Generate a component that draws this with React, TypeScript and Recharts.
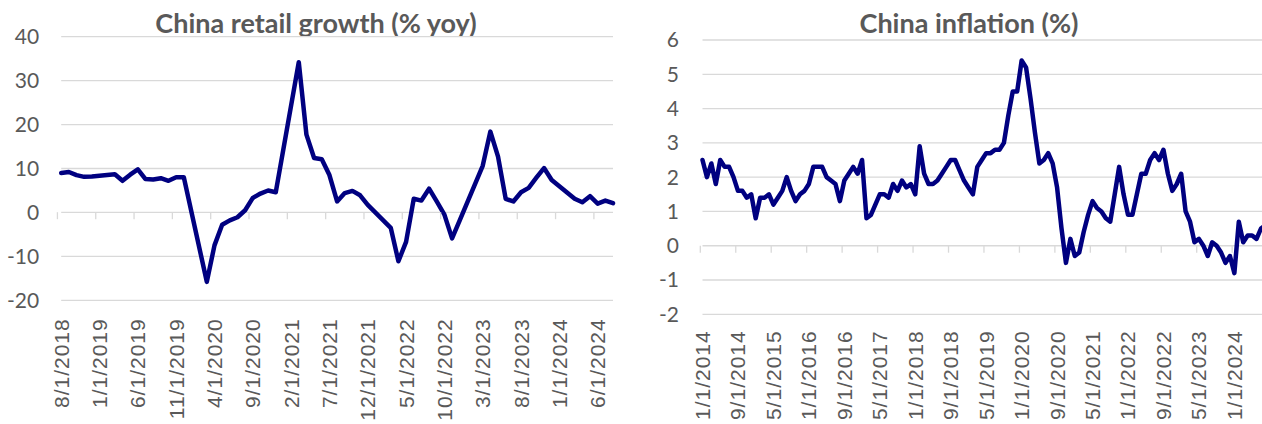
import { LineChart, Line, XAxis, YAxis, CartesianGrid } from 'recharts';

// China retail sales, % yoy, monthly from Aug 2018 (Jan/Feb are published combined -> blank)
const retailStart = { year: 2018, month: 8 };
const retailGrowth: (number | null)[] = [
  9.0, 9.2, 8.5, 8.1, 8.2,
  null, null, 8.7, 7.2, 8.6, 9.8, 7.6, 7.5, 7.8, 7.2, 8.0, 8.0,
  null, null, -15.8, -7.5, -2.8, -1.8, -1.1, 0.5, 3.3, 4.3, 5.0, 4.6,
  null, null, 34.2, 17.7, 12.4, 12.1, 8.5, 2.5, 4.4, 4.9, 3.9, 1.7,
  null, null, -3.5, -11.1, -6.7, 3.1, 2.7, 5.4, 2.5, -0.5, -5.9, -1.8,
  null, null, 10.6, 18.4, 12.7, 3.1, 2.5, 4.6, 5.6, 7.9, 10.1, 7.4,
  null, null, 3.1, 2.3, 3.7, 2.0, 2.7, 2.1,
];
const retailTicks = [-20, -10, 0, 10, 20, 30, 40];

// China CPI, %, monthly from Jan 2014
const cpiStart = { year: 2014, month: 1 };
const cpiInflation: number[] = [
  2.5, 2.0, 2.4, 1.8, 2.5, 2.3, 2.3, 2.0, 1.6, 1.6, 1.4, 1.5,
  0.8, 1.4, 1.4, 1.5, 1.2, 1.4, 1.6, 2.0, 1.6, 1.3, 1.5, 1.6,
  1.8, 2.3, 2.3, 2.3, 2.0, 1.9, 1.8, 1.3, 1.9, 2.1, 2.3, 2.1,
  2.5, 0.8, 0.9, 1.2, 1.5, 1.5, 1.4, 1.8, 1.6, 1.9, 1.7, 1.8,
  1.5, 2.9, 2.1, 1.8, 1.8, 1.9, 2.1, 2.3, 2.5, 2.5, 2.2, 1.9,
  1.7, 1.5, 2.3, 2.5, 2.7, 2.7, 2.8, 2.8, 3.0, 3.8, 4.5, 4.5,
  5.4, 5.2, 4.3, 3.3, 2.4, 2.5, 2.7, 2.4, 1.7, 0.5, -0.5, 0.2,
  -0.3, -0.2, 0.4, 0.9, 1.3, 1.1, 1.0, 0.8, 0.7, 1.5, 2.3, 1.5,
  0.9, 0.9, 1.5, 2.1, 2.1, 2.5, 2.7, 2.5, 2.8, 2.1, 1.6, 1.8,
  2.1, 1.0, 0.7, 0.1, 0.2, 0.0, -0.3, 0.1, 0.0, -0.2, -0.5, -0.3,
  -0.8, 0.7, 0.1, 0.3, 0.3, 0.2, 0.5, 0.6,
];
const cpiTicks = [-2, -1, 0, 1, 2, 3, 4, 5, 6];

const NAVY = '#000080';
const GRID = '#d9d9d9';
const TEXT = '#595959';

// "m/1/yyyy" labels, one per value
function toRows(start: { year: number; month: number }, values: (number | null)[]) {
  return values.map((value, i) => {
    const m = start.month - 1 + i;
    const date = `${(m % 12) + 1}/1/${start.year + Math.floor(m / 12)}`;
    return { date, value };
  });
}

const retailRows = toRows(retailStart, retailGrowth);
const cpiRows = toRows(cpiStart, cpiInflation);

// category label rotated upward; tick mark hangs below the zero line at the category boundary
function DateTick(props: any) {
  const { x, y, payload, half, zeroY, dy } = props;
  const ty = y + dy;
  return (
    <g>
      <line x1={x - half} x2={x - half} y1={zeroY} y2={zeroY + 7} stroke={GRID} strokeWidth={1.3} />
      <text
        x={x}
        y={ty}
        transform={`rotate(-90 ${x} ${ty})`}
        textAnchor="end"
        dominantBaseline="central"
        fill={TEXT}
        style={{ fontFamily: '"Liberation Sans", Arial, sans-serif', fontSize: 21, letterSpacing: 1 }}
      >
        {payload.value}
      </text>
    </g>
  );
}

const titleStyle = (center: number): React.CSSProperties => ({
  position: 'absolute',
  left: center - 250,
  width: 500,
  top: 9,
  textAlign: 'center',
  fontFamily: 'Lato, sans-serif',
  fontWeight: 700,
  fontSize: 27,
  lineHeight: '27px',
  color: TEXT,
});

const yTick = { fill: TEXT, fontSize: 21, fontFamily: 'Lato, sans-serif' };

export default function App() {
  return (
    <div
      style={{
        position: 'fixed',
        left: 0,
        top: 0,
        width: 1262,
        height: 424,
        overflow: 'hidden',
        background: '#fff',
      }}
    >
      <div style={titleStyle(316)}>China retail growth (% yoy)</div>
      <div style={titleStyle(969)}>China inflation (%)</div>

      <div style={{ position: 'absolute', left: 0, top: 0 }}>
        <LineChart width={640} height={424} data={retailRows} margin={{ top: 36.7, right: 27, bottom: 0, left: 0 }}>
          <CartesianGrid vertical={false} stroke={GRID} strokeWidth={1.3} />
          <XAxis
            dataKey="date"
            interval={4}
            height={123.7}
            axisLine={false}
            tickLine={false}
            tickSize={0}
            tickMargin={0}
            tick={(p: any) => <DateTick {...p} half={3.78} zeroY={212.2} dy={18} />}
          />
          <YAxis
            domain={[-20, 40]}
            ticks={retailTicks}
            width={61.2}
            axisLine={false}
            tickLine={false}
            tickSize={0}
            tickMargin={22}
            tick={yTick}
          />
          <Line
            type="linear"
            dataKey="value"
            stroke={NAVY}
            strokeWidth={4.5}
            strokeLinejoin="round"
            strokeLinecap="round"
            dot={false}
            connectNulls
            isAnimationActive={false}
          />
        </LineChart>
      </div>

      <div style={{ position: 'absolute', left: 640, top: 0 }}>
        <LineChart width={640} height={424} data={cpiRows} margin={{ top: 40, right: 14.6, bottom: 0, left: 0 }}>
          <CartesianGrid vertical={false} stroke={GRID} strokeWidth={1.3} />
          <XAxis
            dataKey="date"
            interval={7}
            height={109.7}
            axisLine={false}
            tickLine={false}
            tickSize={0}
            tickMargin={0}
            tick={(p: any) => <DateTick {...p} half={2.2} zeroY={245.7} dy={16} />}
          />
          <YAxis
            domain={[-2, 6]}
            ticks={cpiTicks}
            width={62.5}
            axisLine={false}
            tickLine={false}
            tickSize={0}
            tickMargin={23.5}
            tick={yTick}
          />
          <Line
            type="linear"
            dataKey="value"
            stroke={NAVY}
            strokeWidth={4.5}
            strokeLinejoin="round"
            strokeLinecap="round"
            dot={false}
            isAnimationActive={false}
          />
        </LineChart>
      </div>
    </div>
  );
}
